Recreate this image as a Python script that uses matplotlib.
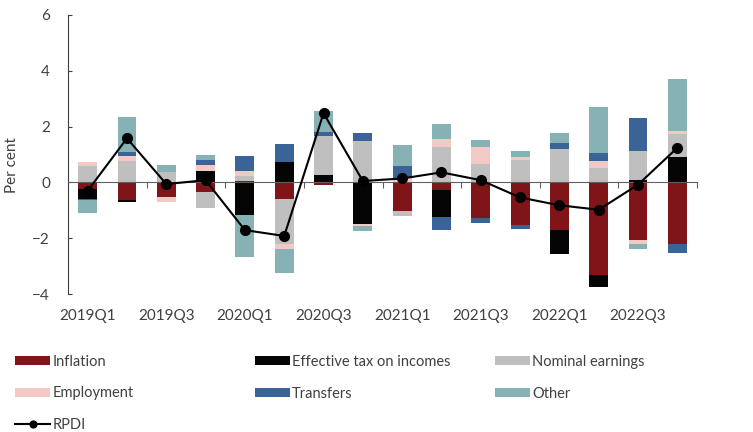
import matplotlib.pyplot as plt
import numpy as np

plt.rcParams['font.family'] = ['Lato', 'DejaVu Sans']

quarters = ["2019Q1", "2019Q2", "2019Q3", "2019Q4",
            "2020Q1", "2020Q2", "2020Q3", "2020Q4",
            "2021Q1", "2021Q2", "2021Q3", "2021Q4",
            "2022Q1", "2022Q2", "2022Q3", "2022Q4"]

inflation = [-0.24, -0.62, -0.52, -0.36, 0.06, -0.58, -0.10, 0.00,
             -1.04, -0.28, -1.26, -1.53, -1.71, -3.32, -2.06, -2.22]
tax = [-0.34, -0.10, 0.00, 0.42, -1.16, 0.72, 0.26, -1.50,
       0.00, -0.96, 0.00, 0.00, -0.84, -0.42, 0.10, 0.90]
nominal = [0.60, 0.78, 0.38, -0.56, 0.16, -1.62, 1.41, 1.47,
           -0.16, 1.26, 0.66, 0.80, 1.18, 0.52, 1.02, 0.84]
employment = [0.12, 0.16, -0.20, 0.20, 0.20, -0.20, 0.00, -0.06,
              0.15, 0.28, 0.60, 0.12, 0.00, 0.24, -0.16, 0.10]
transfers = [-0.06, 0.14, 0.00, 0.18, 0.54, 0.66, 0.12, 0.30,
             0.42, -0.48, -0.18, -0.14, 0.22, 0.30, 1.20, -0.30]
other = [-0.44, 1.28, 0.25, 0.18, -1.53, -0.85, 0.78, -0.18,
         0.78, 0.54, 0.26, 0.22, 0.36, 1.64, -0.18, 1.86]
rpdi = [-0.30, 1.58, -0.06, 0.08, -1.71, -1.92, 2.48, 0.05,
        0.14, 0.36, 0.08, -0.54, -0.82, -0.98, -0.08, 1.24]

series = [("Inflation", inflation, "#7f1519"),
          ("Effective tax on incomes", tax, "#050505"),
          ("Nominal earnings", nominal, "#bfbfbf"),
          ("Employment", employment, "#f2c9c5"),
          ("Transfers", transfers, "#3a6497"),
          ("Other", other, "#86b2b6")]

fig = plt.figure(figsize=(7.53, 4.32), dpi=100)
ax = fig.add_axes([68/753, 1-294/432, (697-68)/753, (294-15)/432])

x = np.arange(len(quarters))
pos = np.zeros(len(quarters))
neg = np.zeros(len(quarters))
bars = {}
for name, vals, col in series:
    v = np.array(vals)
    bottom = np.where(v >= 0, pos, neg)
    bars[name] = ax.bar(x, v, 0.48, bottom=bottom, color=col, label=name, zorder=2)
    pos += np.where(v >= 0, v, 0)
    neg += np.where(v < 0, v, 0)

line, = ax.plot(x, rpdi, color="black", lw=1.5, marker="o", ms=7, zorder=4, label="RPDI")

ax.set_xlim(-0.5, 15.5)
ax.set_ylim(-4, 6)
ax.set_yticks([-4, -2, 0, 2, 4, 6])
ax.tick_params(axis='y', direction='in', length=3, pad=13, labelsize=11,
               labelcolor="#404040", color="#404040")
ax.spines['left'].set_color("#404040")
ax.spines['top'].set_visible(False)
ax.spines['right'].set_visible(False)
ax.spines['bottom'].set_position(('data', 0))
ax.spines['bottom'].set_color("#606060")
ax.spines['bottom'].set_zorder(3)
ax.set_xticks(np.arange(1.5, 16, 2))
ax.tick_params(axis='x', direction='out', length=4, color="#606060", labelbottom=False)

sec = ax.secondary_xaxis('bottom')
sec.set_xticks(x[::2], quarters[::2])
sec.tick_params(length=0, pad=11, labelsize=11, labelcolor="#404040")
sec.spines['bottom'].set_visible(False)

fig.text(12/753, 1-165/432, "Per cent", rotation=90, ha='center', va='center',
         fontsize=11, color="#404040")

h = {name: bars[name] for name, _, _ in series}
cols = [(15, [h["Inflation"], h["Employment"], line], ["Inflation", "Employment", "RPDI"]),
        (255, [h["Effective tax on incomes"], h["Transfers"]], ["Effective tax on incomes", "Transfers"]),
        (495, [h["Nominal earnings"], h["Other"]], ["Nominal earnings", "Other"])]
for xpos, hs, ls in cols:
    leg = fig.legend(hs, ls, loc='upper left', bbox_to_anchor=(xpos/753, 1-355/432),
                     frameon=False, fontsize=10.5, handlelength=2.4, handleheight=0.55,
                     handletextpad=0.15, labelspacing=1.2, borderpad=0, borderaxespad=0,
                     markerscale=0.7)
    for t in leg.get_texts():
        t.set_color("#404040")

fig.savefig("out.png", dpi=100)
